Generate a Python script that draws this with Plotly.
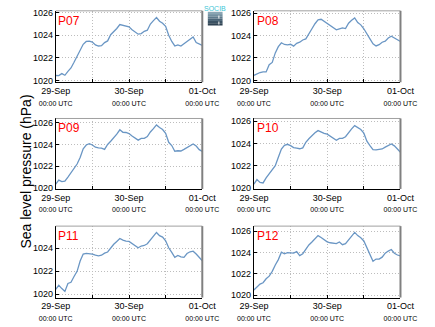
import pandas as pd
import plotly.graph_objects as go

# Hourly sea level pressure (hPa), 29-Sep 00:00 UTC to 01-Oct 00:00 UTC
times = pd.date_range("2014-09-29 00:00", periods=49, freq="h")

p07 = [1020.43, 1020.42, 1020.6, 1020.45, 1020.8, 1021.1, 1021.6, 1022.1, 1022.7, 1023.2,
       1023.45, 1023.48, 1023.4, 1023.15, 1023.05, 1023.08, 1023.35, 1023.5, 1024.05, 1024.3,
       1024.6, 1024.95, 1024.9, 1024.85, 1024.75, 1024.5, 1024.3, 1024.1, 1024.15, 1024.35,
       1024.45, 1025.0, 1025.3, 1025.58, 1025.25, 1025.07, 1024.8, 1024.0, 1023.45, 1023.05,
       1023.15, 1023.05, 1023.25, 1023.45, 1023.65, 1023.85, 1023.35, 1023.25, 1023.1]
p08 = [1020.44, 1020.6, 1020.7, 1020.75, 1020.75, 1021.4, 1021.6, 1022.45, 1023.0, 1023.35,
       1023.2, 1023.17, 1023.22, 1023.05, 1023.3, 1023.4, 1023.6, 1023.7, 1024.2, 1024.6,
       1025.05, 1025.4, 1025.45, 1025.25, 1025.05, 1024.85, 1024.65, 1024.5, 1024.6, 1024.68,
       1024.62, 1025.1, 1025.35, 1025.56, 1025.15, 1024.95, 1024.6, 1024.2, 1023.7, 1023.25,
       1023.07, 1023.18, 1023.4, 1023.5, 1023.78, 1023.93, 1023.8, 1023.65, 1023.47]
p09 = [1020.36, 1020.72, 1020.58, 1020.62, 1021.0, 1021.4, 1021.7, 1022.2, 1022.8, 1023.6,
       1023.95, 1024.08, 1023.95, 1023.75, 1023.68, 1023.66, 1023.55, 1024.0, 1024.3, 1024.6,
       1024.95, 1025.35, 1025.12, 1025.1, 1025.0, 1024.77, 1024.6, 1024.4, 1024.56, 1024.56,
       1024.72, 1025.15, 1025.45, 1025.8, 1025.55, 1025.37, 1025.02, 1024.2, 1023.9, 1023.38,
       1023.42, 1023.4, 1023.55, 1023.72, 1023.88, 1024.05, 1023.85, 1023.52, 1023.36]
p10 = [1020.35, 1020.75, 1020.5, 1020.45, 1020.9, 1021.3, 1021.7, 1022.0, 1022.75, 1023.5,
       1023.82, 1023.92, 1023.8, 1023.62, 1023.57, 1023.52, 1023.6, 1024.1, 1024.42, 1024.7,
       1024.95, 1025.15, 1025.0, 1024.9, 1024.83, 1024.65, 1024.5, 1024.28, 1024.45, 1024.45,
       1024.6, 1025.0, 1025.3, 1025.6, 1025.45, 1025.25, 1024.92, 1024.2, 1023.8, 1023.45,
       1023.42, 1023.45, 1023.5, 1023.67, 1023.8, 1023.95, 1023.78, 1023.45, 1023.2]
p11 = [1020.43, 1020.78, 1020.5, 1020.25, 1020.95, 1021.05, 1021.55, 1022.0, 1022.9, 1023.5,
       1023.56, 1023.55, 1023.5, 1023.4, 1023.35, 1023.4, 1023.58, 1023.68, 1024.05, 1024.35,
       1024.6, 1024.85, 1024.72, 1024.62, 1024.6, 1024.4, 1024.25, 1024.05, 1024.2, 1024.25,
       1024.4, 1024.7, 1025.05, 1025.38, 1025.1, 1024.98, 1024.65, 1024.05, 1023.65, 1023.22,
       1023.38, 1023.26, 1023.22, 1023.55, 1023.7, 1023.75, 1023.5, 1023.22, 1022.92]
p12 = [1020.49, 1020.75, 1021.05, 1021.18, 1021.55, 1021.8, 1022.25, 1022.85, 1023.35, 1024.05,
       1023.9, 1024.0, 1024.0, 1023.95, 1024.1, 1023.72, 1023.9, 1024.35, 1024.72, 1025.0,
       1025.3, 1025.6, 1025.42, 1025.23, 1025.02, 1024.93, 1024.86, 1024.85, 1025.0, 1024.75,
       1024.84, 1025.2, 1025.5, 1025.9, 1025.6, 1025.4, 1025.1, 1024.5, 1023.85, 1023.2,
       1023.4, 1023.4, 1023.58, 1023.95, 1024.15, 1024.3, 1023.95, 1023.78, 1023.7]

station_names = ["P07", "P08", "P09", "P10", "P11", "P12"]
station_series = [p07, p08, p09, p10, p11, p12]
y_ranges = [[1019.83, 1026.17], [1019.83, 1026.2], [1019.91, 1026.39],
            [1019.91, 1026.24], [1019.72, 1025.93], [1019.79, 1026.49]]

x_tick_vals = [times[0], times[12], times[24], times[36], times[48]]
x_tick_text = ["29-Sep<br><span style='font-size:7px'>00:00 UTC</span>", "",
               "30-Sep<br><span style='font-size:7px'>00:00 UTC</span>", "",
               "01-Oct<br><span style='font-size:7px'>00:00 UTC</span>"]
y_tick_vals = [1020, 1022, 1024, 1026]

W, H = 435, 327
col_px = [(42, 201), (257, 416)]
row_px = [(8, 81), (118, 190), (228, 301)]

grid_style = dict(showgrid=True, gridcolor="#bdbdbd", griddash="1px,2px", gridwidth=1)

fig = go.Figure()
layout = dict(
    width=W, height=H, margin=dict(l=0, r=0, t=0, b=0),
    paper_bgcolor="white", plot_bgcolor="white", showlegend=False,
    font=dict(family="Liberation Sans, Arial, sans-serif", color="black", size=9),
)
shapes = []
annotations = []

for i, (name, vals) in enumerate(zip(station_names, station_series)):
    r, c = divmod(i, 2)
    n = i + 1
    xa = "xaxis" if n == 1 else f"xaxis{n}"
    ya = "yaxis" if n == 1 else f"yaxis{n}"
    xr = "x" if n == 1 else f"x{n}"
    yr = "y" if n == 1 else f"y{n}"
    x0, x1 = col_px[c]
    y0, y1 = row_px[r]
    fig.add_trace(go.Scatter(x=times, y=vals, mode="lines", xaxis=xr, yaxis=yr,
                             line=dict(color="#6a96c4", width=1.3)))
    layout[xa] = dict(
        domain=[x0 / W, x1 / W], anchor=yr,
        range=[times[0], times[-1]],
        tickmode="array", tickvals=x_tick_vals, ticktext=x_tick_text,
        showline=True, linecolor="black", linewidth=1,
        ticks="inside", ticklen=3, tickcolor="black",
        tickfont=dict(size=9), tickangle=0, zeroline=False, **grid_style,
    )
    layout[ya] = dict(
        domain=[1 - y1 / H, 1 - y0 / H], anchor=xr,
        range=y_ranges[i],
        tickmode="array", tickvals=y_tick_vals,
        showline=True, linecolor="black", linewidth=1,
        ticks="inside", ticklen=3, tickcolor="black",
        tickfont=dict(size=9), zeroline=False, **grid_style,
    )
    # top and right frame edges
    shapes.append(dict(type="line", xref=f"{xr} domain", yref=f"{yr} domain",
                       x0=0, x1=1, y0=1, y1=1, line=dict(color="#a0a0a0", width=1)))
    shapes.append(dict(type="line", xref=f"{xr} domain", yref=f"{yr} domain",
                       x0=1, x1=1, y0=0, y1=1, line=dict(color="#808080", width=2)))
    annotations.append(dict(text=name, xref=f"{xr} domain", yref=f"{yr} domain",
                            x=0.005, y=0.99, xanchor="left", yanchor="top",
                            showarrow=False, font=dict(color="red", size=12)))

# shared y-axis title
annotations.append(dict(text="Sea level pressure (hPa)", xref="paper", yref="paper",
                        x=10 / W, y=1 - 172 / H, textangle=-90, showarrow=False,
                        xanchor="center", yanchor="middle", font=dict(size=14)))

# small SOCIB logo block
logo_x0, logo_x1 = 207 / W, 223 / W
grad = ["#8aa6b4", "#7390a0", "#5e7a8c", "#4b6577", "#3b5263", "#2e4252"]
top_px, bot_px = 9, 23
step = (bot_px - top_px) / len(grad)
for k, col in enumerate(grad):
    shapes.append(dict(type="rect", xref="paper", yref="paper",
                       x0=logo_x0, x1=logo_x1,
                       y0=1 - (top_px + (k + 1) * step) / H, y1=1 - (top_px + k * step) / H,
                       line=dict(width=0), fillcolor=col))
shapes.append(dict(type="line", xref="paper", yref="paper",
                   x0=219 / W, x1=219 / W, y0=1 - 22 / H, y1=1 - 11 / H,
                   line=dict(color="white", width=1, dash="dot")))
annotations.append(dict(text="SOCIB", xref="paper", yref="paper",
                        x=215 / W, y=1 - 6 / H, xanchor="center", yanchor="middle",
                        showarrow=False, font=dict(color="#3cc6d6", size=7)))

layout["shapes"] = shapes
layout["annotations"] = annotations
fig.update_layout(**layout)
fig.write_html("out.html")
